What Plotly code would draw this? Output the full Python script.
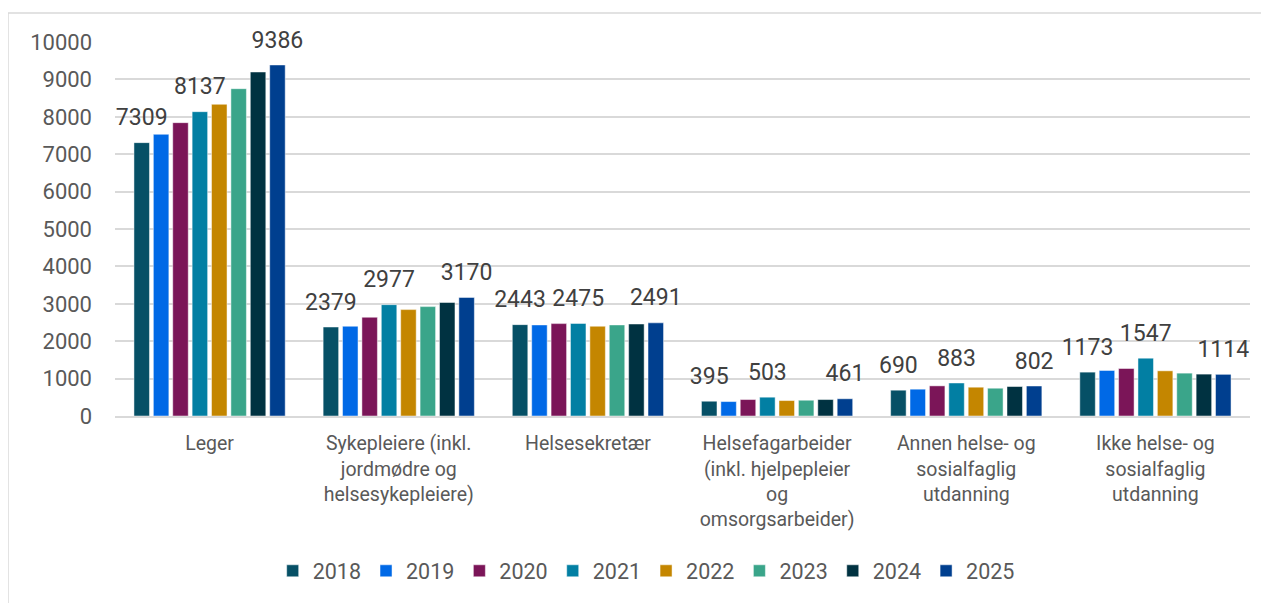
import plotly.graph_objects as go

categories = [
    "Leger",
    "Sykepleiere (inkl.<br>jordmødre og<br>helsesykepleiere)",
    "Helsesekretær",
    "Helsefagarbeider<br>(inkl. hjelpepleier<br>og<br>omsorgsarbeider)",
    "Annen helse- og<br>sosialfaglig<br>utdanning",
    "Ikke helse- og<br>sosialfaglig<br>utdanning",
]
years = ["2018", "2019", "2020", "2021", "2022", "2023", "2024", "2025"]

v2018 = [7309, 2379, 2443, 395, 690, 1173]
v2019 = [7532, 2400, 2435, 386, 717, 1217]
v2020 = [7843, 2640, 2470, 440, 806, 1270]
v2021 = [8137, 2977, 2475, 503, 883, 1547]
v2022 = [8334, 2845, 2400, 413, 770, 1208]
v2023 = [8752, 2925, 2435, 422, 743, 1146]
v2024 = [9198, 3035, 2460, 440, 788, 1120]
v2025 = [9386, 3170, 2491, 461, 802, 1114]

series = [v2018, v2019, v2020, v2021, v2022, v2023, v2024, v2025]
labelled_years = ["2018", "2021", "2025"]

colors = ["#065066", "#0069E6", "#7B1558", "#027FA3", "#C48600", "#3AA58A", "#003241", "#003F8F"]

fig = go.Figure()
for yr, vals, col in zip(years, series, colors):
    fig.add_trace(go.Bar(
        name=yr, x=categories, y=vals, marker_color=col, offsetgroup=yr,
        marker_line_color="rgba(255,255,255,0.6)", marker_line_width=0.8,
    ))
# value labels, grouped like the bars
for yr, vals in zip(years, series):
    txt = [str(v) for v in vals] if yr in labelled_years else ["" for _ in vals]
    fig.add_trace(go.Scatter(
        x=categories, y=vals, mode="markers+text", text=txt, textposition="top center",
        marker=dict(size=17, opacity=0), offsetgroup=yr, showlegend=False,
        hoverinfo="skip", cliponaxis=False,
        textfont=dict(family="Roboto", size=23, color="#404040"),
    ))

fig.update_layout(
    width=1269, height=603,
    barmode="group", bargap=0.18, bargroupgap=0.2,
    scattermode="group", scattergap=0.18,
    plot_bgcolor="white", paper_bgcolor="white",
    margin=dict(l=107, r=27, t=34, b=195),
    font=dict(family="Roboto", color="#595959"),
    legend=dict(orientation="h", x=0.468, xanchor="center", y=-0.414, yanchor="middle",
                font=dict(size=21.5, color="#595959"), traceorder="normal"),
    showlegend=True,
    shapes=[dict(type="rect", xref="paper", yref="paper", x0=-0.0943, x1=1.05, y0=-0.6, y1=1.0775,
                 line=dict(color="#D9D9D9", width=1.5), layer="below")],
)
fig.update_xaxes(tickfont=dict(size=19.5, color="#595959"), showline=True, linecolor="#D9D9D9",
                 linewidth=1.5, ticks="", ticklabelstandoff=9)
fig.update_yaxes(range=[0, 10000], dtick=1000, tickformat="d", showgrid=True, gridcolor="#D9D9D9",
                 gridwidth=1.5, tickfont=dict(size=22, color="#595959"), zeroline=False, ticks="",
                 ticklabelstandoff=22)

fig.write_html("out.html")
